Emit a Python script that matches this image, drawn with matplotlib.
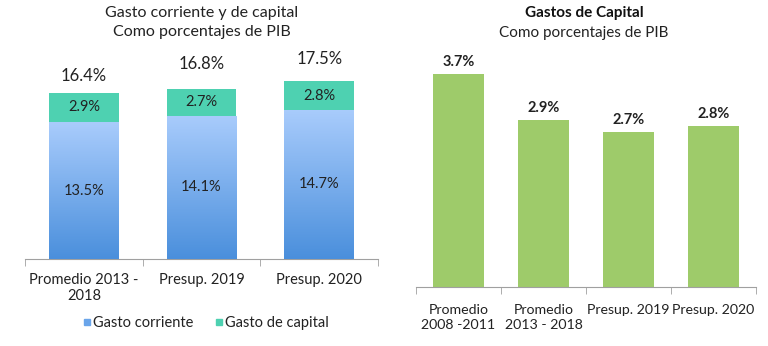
import matplotlib
matplotlib.use("Agg")
import matplotlib.pyplot as plt
import numpy as np
from matplotlib.lines import Line2D
from matplotlib.colors import LinearSegmentedColormap

# ---- data ----
left_categories = ["Promedio 2013 -\n2018", "Presup. 2019", "Presup. 2020"]
gasto_corriente = [13.5, 14.1, 14.7]
gasto_capital = [2.9, 2.7, 2.8]
totales = [16.4, 16.8, 17.5]

right_categories = ["Promedio\n2008 -2011", "Promedio\n2013 - 2018", "Presup. 2019", "Presup. 2020"]
capital_values = [3.7, 2.9, 2.7, 2.8]

FONT = "Lato"
plt.rcParams['font.family'] = [FONT, 'DejaVu Sans']

fig = plt.figure(figsize=(7.68, 3.46), dpi=100)

# ---------------- left chart ----------------
axL = fig.add_axes([25/768, (346-259)/346, 353/768, 213/346])
x = np.arange(len(left_categories))
w = 0.59
blue_cmap = LinearSegmentedColormap.from_list("b", ["#4a8fdc", "#a9ccfc"])
bars_c = axL.bar(x, gasto_corriente, width=w, color="#7fb0ef", zorder=2)
bars_k = axL.bar(x, gasto_capital, width=w, bottom=gasto_corriente, color="#4ed1b1", zorder=2)
grad = np.linspace(0, 1, 256).reshape(-1, 1)
for b in bars_c:
    x0, y0 = b.get_x(), b.get_y()
    im = axL.imshow(grad, cmap=blue_cmap, origin="lower", aspect="auto",
                    extent=[x0, x0 + b.get_width(), y0, y0 + b.get_height()], zorder=3)
    im.set_clip_path(b)
axL.set_xlim(-0.5, 2.5)
axL.set_ylim(0, 21)

for i in range(len(x)):
    axL.text(x[i], gasto_corriente[i] / 2, f"{gasto_corriente[i]:.1f}%", ha="center", va="center",
             fontsize=10.5, color="#222222", zorder=4)
    axL.text(x[i], gasto_corriente[i] + gasto_capital[i] / 2, f"{gasto_capital[i]:.1f}%",
             ha="center", va="center", fontsize=10.5, color="#222222", zorder=4)
tot_off = [17, 25, 22]
for i in range(len(x)):
    axL.annotate(f"{totales[i]:.1f}%", (x[i], totales[i]), xytext=(0, tot_off[i] * 0.72),
                 textcoords="offset points", ha="center", va="center", fontsize=12, color="#222222")

for s in ["top", "right", "left"]:
    axL.spines[s].set_visible(False)
axL.spines["bottom"].set_color("#a0a0a0")
axL.set_yticks([])
axL.set_xticks(x)
axL.set_xticklabels(left_categories, fontsize=10.5, color="#222222", linespacing=1.15)
axL.tick_params(axis="x", which="major", length=0, pad=10)
axL.set_xticks([-0.5, 0.5, 1.5, 2.5], minor=True)
axL.tick_params(axis="x", which="minor", length=5, color="#a0a0a0")

fig.text(202/768, 1 - 13/346, "Gasto corriente y de capital", ha="center", va="center",
         fontsize=11.5, color="#222222")
fig.text(202/768, 1 - 32/346, "Como porcentajes de PIB", ha="center", va="center",
         fontsize=11.5, color="#222222")

handles = [Line2D([], [], marker="s", linestyle="none", markersize=5, color="#6aa5ea"),
           Line2D([], [], marker="s", linestyle="none", markersize=5, color="#4ed1b1")]
fig.legend(handles, ["Gasto corriente", "Gasto de capital"], loc="center",
           bbox_to_anchor=(205/768, 1 - 323/346), ncol=2, frameon=False, fontsize=10.5,
           handletextpad=0.05, columnspacing=1.3, handlelength=0.8, labelcolor="#222222")

# ---------------- right chart ----------------
axR = fig.add_axes([416/768, (346-287)/346, 340/768, 259/346])
xr = np.arange(len(right_categories))
axR.bar(xr, capital_values, width=0.59, color="#9ecb6a", zorder=2)
axR.set_xlim(-0.5, 3.5)
axR.set_ylim(0, 4.5)
for i in range(len(xr)):
    axR.annotate(f"{capital_values[i]:.1f}%", (xr[i], capital_values[i]), xytext=(0, 12 * 0.72),
                 textcoords="offset points", ha="center", va="center", fontsize=10.5,
                 fontweight="bold", color="#222222")
for s in ["top", "right", "left"]:
    axR.spines[s].set_visible(False)
axR.spines["bottom"].set_color("#a0a0a0")
axR.set_yticks([])
axR.set_xticks(xr)
axR.set_xticklabels(right_categories, fontsize=10.2, color="#222222", linespacing=1.3)
axR.tick_params(axis="x", which="major", length=0, pad=12)
axR.set_xticks([-0.5, 0.5, 1.5, 2.5, 3.5], minor=True)
axR.tick_params(axis="x", which="minor", length=5, color="#a0a0a0")

fig.text(584/768, 1 - 13/346, "Gastos de Capital", ha="center", va="center",
         fontsize=11, fontweight="bold", color="#111111")
fig.text(584/768, 1 - 33/346, "Como porcentajes de PIB", ha="center", va="center",
         fontsize=11, color="#222222")

fig.savefig("out.png", dpi=100)
